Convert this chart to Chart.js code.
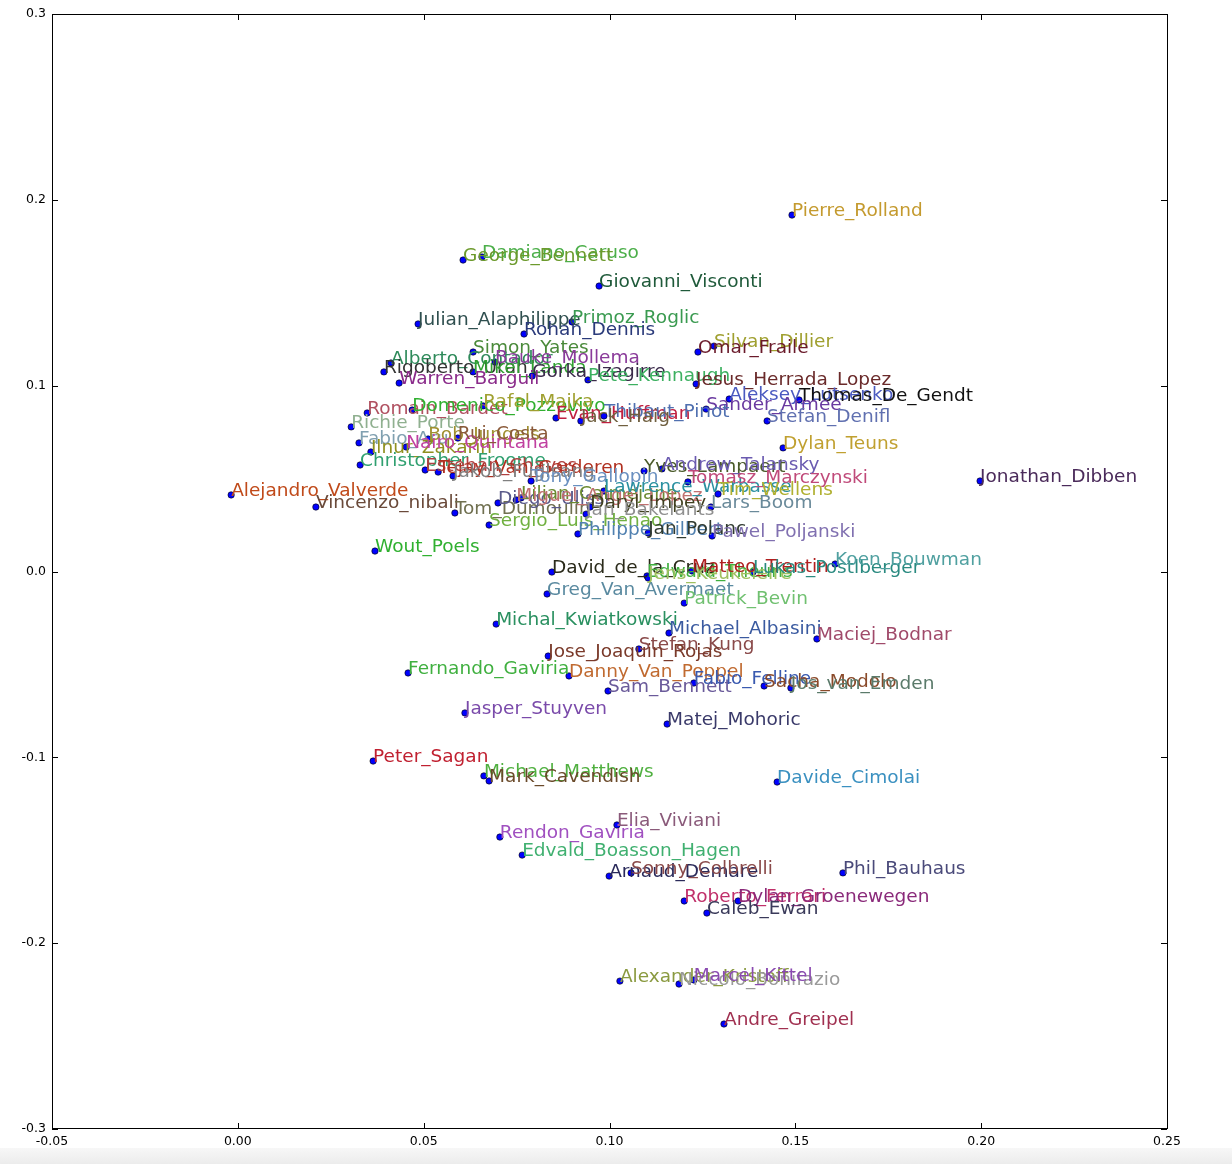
<!DOCTYPE html>
<html><head><meta charset="utf-8">
<script src="https://cdn.jsdelivr.net/npm/chart.js@4.4.1/dist/chart.umd.min.js"></script>
<style>
html,body{margin:0;padding:0;background:#fff;width:1232px;height:1164px;overflow:hidden;}
#wrap{position:absolute;left:0;top:0;width:1232px;height:1164px;}
#strip{position:absolute;left:0;top:1148px;width:1232px;height:16px;background:linear-gradient(#f7f7f7,#ececec);}
</style></head><body>
<div id="wrap"><canvas id="c" width="1232" height="1164"></canvas></div>
<div id="strip"></div>
<script>
const names = ["Pierre_Rolland","Damiano_Caruso","George_Bennett","Giovanni_Visconti","Julian_Alaphilippe","Primoz_Roglic","Rohan_Dennis","Silvan_Dillier","Omar_Fraile","Simon_Yates","Alberto_Contador","Bauke_Mollema","Rigoberto_Uran","Mikel_Landa","Gorka_Izagirre","Pete_Kennaugh","Warren_Barguil","Jesus_Herrada_Lopez","Aleksey_Lutsenko","Thomas_De_Gendt","Sander_Armee","Stefan_Denifl","Romain_Bardet","Domenico_Pozzovivo","Rafal_Majka","Evan_Huffman","Thibaut_Pinot","Jack_Haig","Richie_Porte","Fabio_Aru","Bob_Jungels","Ilnur_Zakarin","Nairo_Quintana","Rui_Costa","Christopher_Froome","Esteban_Chaves","Tejay_Van_Garderen","Jakob_Fuglsang","Dylan_Teuns","Jonathan_Dibben","Alejandro_Valverde","Vincenzo_nibali","Tom_Dumoulin","Diego_Ulissi","Sergio_Luis_Henao","Tony_Gallopin","Lilian_Calmejane","Miguel_Angel_Lopez","Lawrence_Warbasse","Daryl_Impey","Jan_Bakelants","Philippe_Gilbert","Yves_Lampaert","Andrew_Talansky","Tomasz_Marczynski","Tim_Wellens","Lars_Boom","Jan_Polanc","Pawel_Poljanski","Wout_Poels","David_de_la_Cruz","Greg_Van_Avermaet","Edward_Theuns","Jens_Keukeleire","Matteo_Trentin","Lukas_Postlberger","Koen_Bouwman","Patrick_Bevin","Michal_Kwiatkowski","Michael_Albasini","Maciej_Bodnar","Stefan_Kung","Jose_Joaquin_Rojas","Fernando_Gaviria","Danny_Van_Poppel","Sam_Bennett","Fabio_Felline","Sacha_Modolo","Jos_van_Emden","Jasper_Stuyven","Matej_Mohoric","Peter_Sagan","Michael_Matthews","Mark_Cavendish","Davide_Cimolai","Elia_Viviani","Rendon_Gaviria","Edvald_Boasson_Hagen","Arnaud_Demare","Sonny_Colbrelli","Phil_Bauhaus","Roberto_Ferrari","Dylan_Groenewegen","Caleb_Ewan","Alexander_Kristoff","Niccolo_Bonifazio","Marcel_Kittel","Andre_Greipel"];
const xValues = [0.1491,0.0657,0.0606,0.0972,0.0485,0.0899,0.0770,0.1281,0.1238,0.0633,0.0412,0.0692,0.0393,0.0633,0.0792,0.0942,0.0434,0.1233,0.1322,0.1510,0.1260,0.1424,0.0348,0.0469,0.0660,0.0856,0.0985,0.0923,0.0305,0.0326,0.0512,0.0358,0.0453,0.0592,0.0329,0.0504,0.0539,0.0579,0.1467,0.1997,-0.0018,0.0210,0.0584,0.0700,0.0676,0.0789,0.0762,0.0749,0.0985,0.0948,0.0937,0.0915,0.1093,0.1141,0.1211,0.1292,0.1273,0.1104,0.1276,0.0369,0.0845,0.0832,0.1101,0.1104,0.1222,0.1386,0.1607,0.1201,0.0695,0.1160,0.1558,0.1079,0.0835,0.0458,0.0891,0.0996,0.1227,0.1416,0.1488,0.0611,0.1155,0.0364,0.0662,0.0676,0.1451,0.1020,0.0705,0.0765,0.0999,0.1058,0.1628,0.1201,0.1346,0.1262,0.1028,0.1187,0.1227,0.1308];
const yValues = [0.1918,0.1692,0.1676,0.1536,0.1332,0.1343,0.1278,0.1213,0.1181,0.1181,0.1122,0.1127,0.1074,0.1074,0.1052,0.1031,0.1014,0.1009,0.0928,0.0923,0.0874,0.0810,0.0853,0.0869,0.0891,0.0826,0.0837,0.0810,0.0778,0.0692,0.0713,0.0643,0.0670,0.0718,0.0573,0.0546,0.0535,0.0514,0.0665,0.0487,0.0412,0.0347,0.0315,0.0369,0.0250,0.0487,0.0396,0.0385,0.0433,0.0347,0.0309,0.0202,0.0541,0.0552,0.0482,0.0417,0.0347,0.0207,0.0191,0.0110,-0.0003,-0.0121,-0.0024,-0.0035,0.0003,-0.0003,0.0040,-0.0170,-0.0283,-0.0331,-0.0363,-0.0417,-0.0455,-0.0546,-0.0562,-0.0643,-0.0600,-0.0616,-0.0627,-0.0761,-0.0821,-0.1020,-0.1100,-0.1127,-0.1133,-0.1364,-0.1429,-0.1526,-0.1639,-0.1622,-0.1622,-0.1773,-0.1773,-0.1838,-0.2204,-0.2220,-0.2198,-0.2435];
const labelColors = ["#c49a2e","#4caf4a","#6c9a2c","#1f5a3a","#2f4f4f","#3a9a50","#2a3a7a","#a0a030","#6a1a2a","#4a8a3a","#2e8a5a","#8a3a9a","#333333","#30a030","#3a2a4a","#3cb060","#8a2a8a","#6a2a2a","#4a5ac0","#111111","#6a3aa0","#6070b0","#b05060","#30b030","#a0a030","#c02040","#5070b0","#706040","#90b090","#80a0b0","#a09030","#909020","#c040a0","#8a5a3a","#30a070","#b04040","#b03020","#808080","#c0a030","#4a2a5a","#c04a1a","#6a4a3a","#707050","#5a5a8a","#70b040","#6a90c0","#6a8a30","#c07070","#2a90a0","#404020","#909090","#5080b0","#4a5a2a","#6a5ab0","#c04a7a","#b0b030","#6a8a9a","#303a30","#8070b0","#30b030","#2a2a1a","#5a8aa0","#40b040","#a0c060","#b02020","#2a8a80","#50a0a0","#70c070","#2a9060","#3a5aa0","#a04a6a","#8a4a4a","#7a3a2a","#40b040","#c06a30","#6a5a9a","#3a5ab0","#8a4a2a","#5a7a6a","#7a4aaa","#3a3a6a","#c02030","#50b040","#6a4a2a","#3a90c0","#8a5a7a","#a050c0","#40b070","#2a2a5a","#8a4a4a","#4a4a7a","#c0306a","#8a2a7a","#3a3a5a","#8a9a40","#9a9a9a","#8a4ab0","#a03050"];
const xTickLabels = ["-0.05","0.00","0.05","0.10","0.15","0.20","0.25"];
const yTickLabels = ["-0.3","-0.2","-0.1","0.0","0.1","0.2","0.3"];
const xTickValues = [-0.05,0,0.05,0.10,0.15,0.20,0.25];
const yTickValues = [-0.3,-0.2,-0.1,0,0.1,0.2,0.3];

const points = xValues.map((x,i)=>({x:x,y:yValues[i]}));

const labelPlugin = {
  id:'labels',
  afterDatasetsDraw(chart){
    const ctx = chart.ctx, xs = chart.scales.x, ys = chart.scales.y;
    ctx.save();
    ctx.font = '18.5px "DejaVu Sans"';
    ctx.textAlign = 'left';
    ctx.textBaseline = 'alphabetic';
    names.forEach((n,i)=>{
      ctx.fillStyle = labelColors[i];
      ctx.fillText(n, xs.getPixelForValue(xValues[i]), ys.getPixelForValue(yValues[i]) + 1);
    });
    ctx.restore();
  }
};
const framePlugin = {
  id:'frame',
  afterDraw(chart){
    const ctx = chart.ctx, a = chart.chartArea, xs = chart.scales.x, ys = chart.scales.y;
    ctx.save();
    ctx.strokeStyle = '#000'; ctx.lineWidth = 1;
    ctx.strokeRect(Math.round(a.left)+0.5, Math.round(a.top)+0.5, Math.round(a.right-a.left), Math.round(a.bottom-a.top)-1);
    ctx.beginPath();
    xTickValues.forEach(v=>{
      const p = Math.round(xs.getPixelForValue(v))+0.5;
      ctx.moveTo(p,a.bottom); ctx.lineTo(p,a.bottom-6);
      ctx.moveTo(p,a.top); ctx.lineTo(p,a.top+6);
    });
    yTickValues.forEach(v=>{
      const p = Math.round(ys.getPixelForValue(v))+0.5;
      ctx.moveTo(a.left,p); ctx.lineTo(a.left+6,p);
      ctx.moveTo(a.right,p); ctx.lineTo(a.right-6,p);
    });
    ctx.stroke();
    ctx.restore();
  }
};

new Chart(document.getElementById('c'),{
  type:'scatter',
  data:{datasets:[{data:points,pointRadius:3.2,pointHoverRadius:3.2,pointBackgroundColor:'#0000ff',pointBorderColor:'#000',pointBorderWidth:0.6}]},
  options:{
    responsive:false,animation:false,
    layout:{padding:{top:14,right:65,left:0,bottom:0}},
    plugins:{legend:{display:false},tooltip:{enabled:false}},
    scales:{
      x:{type:'linear',min:-0.05,max:0.25,
        afterBuildTicks(s){s.ticks = xTickValues.map(v=>({value:v}));},
        afterFit(s){s.height = 35;},
        grid:{display:false,drawTicks:false},border:{display:false},
        ticks:{padding:5,color:'#000',font:{family:'"DejaVu Sans"',size:12.5},maxRotation:0,autoSkip:false,
          callback:(v,i)=>xTickLabels[i]}},
      y:{type:'linear',min:-0.3,max:0.3,
        afterBuildTicks(s){s.ticks = yTickValues.map(v=>({value:v}));},
        afterFit(s){s.width = 52;},
        grid:{display:false,drawTicks:false},border:{display:false},
        ticks:{padding:6,color:'#000',font:{family:'"DejaVu Sans"',size:12.5},autoSkip:false,
          callback:(v,i)=>yTickLabels[i]}}
    }
  },
  plugins:[labelPlugin,framePlugin]
});
</script>
</body></html>
